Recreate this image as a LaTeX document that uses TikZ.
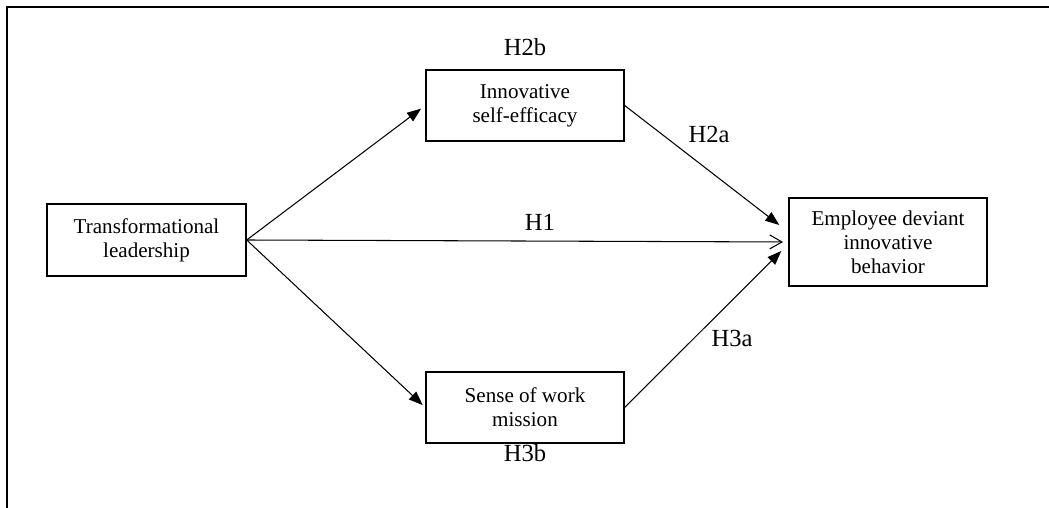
\documentclass[tikz,border=0pt]{standalone}
\usepackage{fontspec}
\setmainfont{Liberation Serif}
\usetikzlibrary{arrows.meta,positioning}

\begin{document}
\begin{tikzpicture}[
		var/.style={draw,line width=0.8pt,minimum width=3.96cm,minimum height=1.42cm,
			align=center,font=\fontsize{12}{13.6}\selectfont},
		hyp/.style={font=\fontsize{14}{16}\selectfont},
		path/.style={line width=0.6pt,-{Triangle[length=8pt,width=6pt]}}]
		\useasboundingbox (0,0) rectangle (20.98,10.16);
		% frame
		\draw[line width=1.2pt] (0.14,0) -- (0.14,10.02) -- (20.98,10.02);
		% variables
		\node[var,minimum width=3.98cm,minimum height=1.44cm] (tl) at (2.93,5.36) {Transformational\\leadership};
		\node[var] (ise) at (10.5,8.05) {Innovative\\self-efficacy};
		\node[var] (swm) at (10.5,2.01) {Sense of work\\mission};
		\node[var,minimum height=1.76cm] (edib) at (17.76,5.32) {Employee deviant\\innovative\\behavior};
		% paths
		\draw[path,shorten >=3pt] (tl.east) -- (ise.west);
		\draw[path,shorten >=2pt] (tl.east) -- (swm.west);
		\draw[line width=0.6pt,-{Straight Barb[length=7pt,width=8pt]},shorten >=3pt] (tl.east) -- (edib.west);
		\draw[path] (ise.east) -- ([xshift=-0.18cm,yshift=0.34cm]edib.west);
		\draw[path] (swm.east) -- ([xshift=-0.14cm,yshift=-0.18cm]edib.west);
		% hypotheses
		\node[hyp] (h2b) at (10.5,9.22) {H2b};
		\node[hyp] (h2a) at (14.18,7.48) {H2a};
		\node[hyp] (h1) at (10.8,5.72) {H1};
		\node[hyp] (h3a) at (14.64,3.4) {H3a};
		\node[hyp] (h3b) at (10.5,1.1) {H3b};
	\end{tikzpicture}
\end{document}
